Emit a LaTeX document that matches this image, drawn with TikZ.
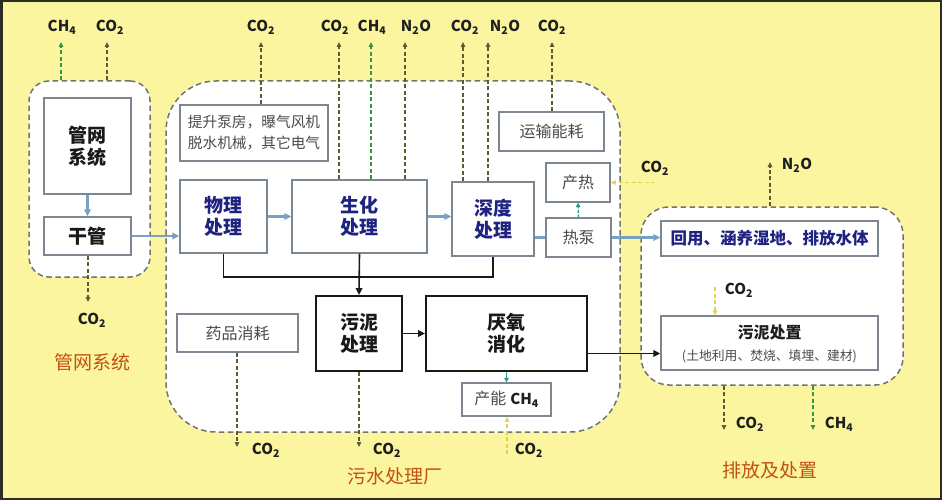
\documentclass[tikz,border=0pt]{standalone}
\usepackage{fontspec}
\setmainfont{Noto Sans CJK SC}
\usetikzlibrary{arrows.meta}
\definecolor{bgyellow}{RGB}{251,245,160}
\definecolor{framec}{RGB}{45,45,35}
\definecolor{grpgray}{RGB}{115,115,115}
\definecolor{boxgray}{RGB}{125,135,145}
\definecolor{navytxt}{RGB}{30,35,130}
\definecolor{graytxt}{RGB}{75,75,75}
\definecolor{flowblue}{RGB}{120,160,195}
\definecolor{olive}{RGB}{95,90,50}
\definecolor{gasgreen}{RGB}{55,150,60}
\definecolor{gasyellow}{RGB}{225,210,85}
\definecolor{tealc}{RGB}{55,150,130}
\definecolor{orangetxt}{RGB}{195,80,20}
\begin{document}
\begin{tikzpicture}[x=1pt,y=-1pt,
  gbox/.style={draw=boxgray, line width=1.3pt, fill=white, inner sep=0pt, align=center},
  kbox/.style={draw=black!90, line width=1.9pt, fill=white, inner sep=0pt, align=center},
  grp/.style={draw=grpgray, dash pattern=on 5.5pt off 3.5pt, line width=1.5pt, fill=white, inner sep=0pt},
  flow/.style={draw=flowblue, line width=2.2pt, -{Triangle[length=7pt,width=6.5pt]}},
  flowline/.style={draw=flowblue, line width=2.2pt},
  blk/.style={draw=black!90, line width=1.6pt},
  blkarr/.style={blk, -{Triangle[length=7pt,width=6.5pt]}},
  emit/.style={line width=1.3pt, dash pattern=on 4pt off 2.5pt, -{Triangle[length=5pt,width=4.5pt]}},
  gas/.style={font=\bfseries\fontsize{15}{15}\selectfont, text=black!88, inner sep=0pt},
  navylab/.style={font=\bfseries\fontsize{19}{22}\selectfont, text=navytxt},
  blacklab/.style={font=\bfseries\fontsize{19}{22}\selectfont, text=black!90},
  graylab/.style={font=\fontsize{16}{20}\selectfont, text=graytxt},
  grouplab/.style={font=\fontsize{19}{20}\selectfont, text=orangetxt, inner sep=0pt}
]
\useasboundingbox (0,0) rectangle (942,500);
\fill[bgyellow] (0,0) rectangle (942,500);
\draw[framec, line width=2.5pt] (1.25,1.25) rectangle (940.75,498.75);

% groups
\node[grp, rounded corners=20pt, minimum width=121pt, minimum height=196pt] (G1) at (89.5,179) {};
\node[grp, rounded corners=50pt, minimum width=454pt, minimum height=351pt] (G2) at (393,256.5) {};
\node[grp, rounded corners=28pt, minimum width=262pt, minimum height=178pt] (G3) at (772,296) {};

% boxes
\node[gbox, blacklab, minimum width=87pt, minimum height=96pt] (gw) at (87.5,146) {管网\\系统};
\node[gbox, blacklab, minimum width=87pt, minimum height=38pt] (gg) at (87.5,236) {干管};
\node[gbox, font=\fontsize{14.7}{21}\selectfont, text=graytxt, minimum width=148pt, minimum height=56pt] (ts) at (254,133) {提升泵房，曝气风机\\脱水机械，其它电气};
\node[gbox, navylab, minimum width=87pt, minimum height=73pt] (wl) at (223.5,216.5) {物理\\处理};
\node[gbox, navylab, minimum width=135pt, minimum height=73pt] (sh) at (359.5,216.5) {生化\\处理};
\node[gbox, navylab, minimum width=82pt, minimum height=74pt] (sd) at (493,219) {深度\\处理};
\node[gbox, graylab, minimum width=105pt, minimum height=39pt] (ys) at (551.5,131.5) {运输能耗};
\node[gbox, graylab, minimum width=64pt, minimum height=39pt] (cr) at (578,182.5) {产热};
\node[gbox, graylab, minimum width=65pt, minimum height=39pt] (rb) at (578.5,237.5) {热泵};
\node[kbox, blacklab, minimum width=86pt, minimum height=75pt] (wn) at (359,333.5) {污泥\\处理};
\node[kbox, blacklab, minimum width=161pt, minimum height=75pt] (yy) at (506.5,333.5) {厌氧\\消化};
\node[gbox, graylab, minimum width=121pt, minimum height=38pt] (yp) at (237.5,333) {药品消耗};
\node[gbox, graylab, minimum width=89pt, minimum height=33pt] (cn) at (506.5,399.5) {产能\hspace{4pt}{\bfseries\fontsize{15}{15}\selectfont\color{black!88}CH\textsubscript{4}}};
\node[gbox, font=\bfseries\fontsize{16.5}{20}\selectfont, text=navytxt, minimum width=217pt, minimum height=35pt] (hy) at (769.5,238.5) {回用、涵养湿地、排放水体};
\node[gbox, minimum width=217pt, minimum height=54pt] (wc) at (769.5,343) {};
\node[font=\bfseries\fontsize{16}{18}\selectfont, text=black!88, inner sep=0pt] (wct) at (769.5,332) {污泥处置};
\node[font=\fontsize{12.8}{14}\selectfont, text=graytxt, inner sep=0pt] (wcs) at (769.5,356) {(土地利用、焚烧、填埋、建材)};

% group labels
\node[grouplab] (L1) at (92,362) {管网系统};
\node[grouplab] (L2) at (395,476) {污水处理厂};
\node[grouplab] (L3) at (770,470) {排放及处置};

% main flow
\draw[flow] (gw) -- (gg);
\draw[flow] (gg.east) -- (gg.east -| wl.west);
\draw[flow] (wl.east) -- (wl.east -| sh.west);
\draw[flow] (sh.east) -- (sh.east -| sd.west);
\draw[flowline] (sd.east |- rb.west) -- (rb.west);
\draw[flow] (rb.east) -- (rb.east -| hy.west);

% sludge lines
\coordinate (j1) at (wl.south |- 0,277);
\coordinate (j2) at (sd.south |- 0,277);
\draw[blk] (wl.south) -- (j1) -- (j2) -- (sd.south);
\draw[blkarr] (sh.south) -- (wn.north);
\draw[blkarr] (wn.east) -- (yy.west);
\coordinate (ya) at ([yshift=-20pt]yy.east);
\draw[blkarr] (ya) -- (ya -| wc.west);

% small teal arrows
\draw[tealc, line width=1.3pt, dash pattern=on 3pt off 1.5pt, -{Triangle[length=4.5pt,width=4.5pt]}] (rb.north) -- (cr.north |- cr.south);
\draw[tealc, line width=1.5pt, -{Triangle[length=4.5pt,width=4.5pt]}] (yy.south) -- (cn.north);

% gas labels
\node[gas] (a1) at (62,27) {CH\textsubscript{4}};
\node[gas] (a2) at (110,27) {CO\textsubscript{2}};
\node[gas] (a3) at (261,27) {CO\textsubscript{2}};
\node[gas] (a4) at (335,27) {CO\textsubscript{2}};
\node[gas] (a5) at (372,27) {CH\textsubscript{4}};
\node[gas] (a6) at (416,27) {N\textsubscript{2}O};
\node[gas] (a7) at (465,27) {CO\textsubscript{2}};
\node[gas] (a8) at (505,27) {N\textsubscript{2}O};
\node[gas] (a9) at (552,27) {CO\textsubscript{2}};
\node[gas] (b1) at (655,168) {CO\textsubscript{2}};
\node[gas] (b2) at (797,165) {N\textsubscript{2}O};
\node[gas] (b3) at (739,290) {CO\textsubscript{2}};
\node[gas] (b4) at (750,424) {CO\textsubscript{2}};
\node[gas] (b5) at (839,424) {CH\textsubscript{4}};
\node[gas] (c1) at (92,320) {CO\textsubscript{2}};
\node[gas] (c2) at (266,450) {CO\textsubscript{2}};
\node[gas] (c3) at (387,450) {CO\textsubscript{2}};
\node[gas] (c4) at (529,450) {CO\textsubscript{2}};

% emission arrow ends
\coordinate (e1) at (61,42);
\coordinate (e2) at (107,42);
\coordinate (e3) at (261,42);
\coordinate (e4) at (339,42);
\coordinate (e5) at (371,42);
\coordinate (e6) at (405,42);
\coordinate (e7) at (463,42);
\coordinate (e8) at (488,42);
\coordinate (e9) at (552,42);
\coordinate (f1) at (655,182.5);
\coordinate (f2) at (770,162);
\coordinate (f3) at (715,287);
\coordinate (f4) at (724,430);
\coordinate (f5) at (813,430);
\coordinate (g1) at (88,302);
\coordinate (g2) at (237,447);
\coordinate (g3) at (359,447);
\coordinate (g4) at (507,454);

\draw[emit, gasgreen] (e1 |- G1.north) -- (e1);
\draw[emit, olive] (e2 |- G1.north) -- (e2);
\draw[emit, olive] (e3 |- ts.north) -- (e3);
\draw[emit, olive] (e4 |- sh.north) -- (e4);
\draw[emit, gasgreen] (e5 |- sh.north) -- (e5);
\draw[emit, olive] (e6 |- sh.north) -- (e6);
\draw[emit, olive] (e7 |- sd.north) -- (e7);
\draw[emit, olive] (e8 |- sd.north) -- (e8);
\draw[emit, olive] (e9 |- ys.north) -- (e9);
\draw[emit, gasyellow] (f1) -- (f1 -| cr.east);
\draw[emit, olive] (f2 |- G3.north) -- (f2);
\draw[emit, gasyellow] (f3) -- (f3 |- wc.north);
\draw[emit, olive] (f4 |- G3.south) -- (f4);
\draw[emit, gasgreen] (f5 |- G3.south) -- (f5);
\draw[emit, olive] (g1 |- gg.south) -- (g1);
\draw[emit, olive] (g2 |- yp.south) -- (g2);
\draw[emit, olive] (g3 |- wn.south) -- (g3);
\draw[emit, gasyellow] (g4) -- (g4 |- cn.south);
\end{tikzpicture}
\end{document}
